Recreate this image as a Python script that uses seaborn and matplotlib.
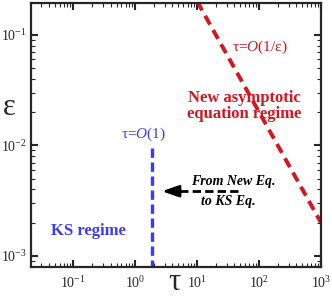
import matplotlib
matplotlib.use("Agg")
import matplotlib.pyplot as plt
import seaborn as sns
from matplotlib.ticker import LogLocator, NullFormatter

# data
tau_red = [10, 1000]
eps_red = [0.2, 0.002]
tau_blue = [1.9, 1.9]
eps_blue = [0.0095, 0.0008]
tau_arrow = [46, 3.6]
eps_arrow = [0.00385, 0.00385]

sns.set_style("ticks")
plt.rcParams['font.family'] = ['Liberation Serif', 'DejaVu Serif']
plt.rcParams['mathtext.fontset'] = 'custom'
plt.rcParams['mathtext.rm'] = 'Liberation Serif'
plt.rcParams['mathtext.it'] = 'Liberation Serif:italic'
plt.rcParams['mathtext.bf'] = 'Liberation Serif:bold'

RED = "#d8141e"
BLUE = "#3a3aff"

fig = plt.figure(figsize=(3.32, 2.98), dpi=100, facecolor='white')
ax = fig.add_axes([0.093, 0.105, 0.874, 0.885])
ax.set_facecolor('white')

kw = dict(ax=ax, estimator=None, sort=False, errorbar=None)
sns.lineplot(x=tau_red, y=eps_red, color=RED, lw=2.8, linestyle=(0, (2.6, 1.6)), **kw)
sns.lineplot(x=tau_blue, y=eps_blue, color=BLUE, lw=2.4, linestyle=(0, (2.8, 1.4)), **kw)
sns.lineplot(x=tau_arrow, y=eps_arrow, color='black', lw=2.0, linestyle=(0, (3, 1.5)), **kw)
ax.annotate("", xy=(2.7, eps_arrow[0]), xytext=(3.8, eps_arrow[0]),
            arrowprops=dict(arrowstyle='-|>,head_length=1.0,head_width=0.35', color='black', lw=2.0,
                            shrinkA=0, shrinkB=0))

ax.set_xscale('log')
ax.set_yscale('log')
ax.set_xlim(0.0207, 1000)
ax.set_ylim(0.0008, 0.194)

for a in (ax.xaxis, ax.yaxis):
    a.set_major_locator(LogLocator(base=10, numticks=20))
    a.set_minor_locator(LogLocator(base=10, subs=range(2, 10), numticks=20))
    a.set_minor_formatter(NullFormatter())

ax.tick_params(which='both', direction='in', top=True, right=True, labelsize=10)
ax.tick_params(which='major', length=5, width=1.5)
ax.tick_params(which='minor', length=3, width=0.8)
ax.tick_params(axis='x', pad=6)
ax.tick_params(axis='y', pad=3)
for s in ax.spines.values():
    s.set_linewidth(1.6)

ax.set_xlabel("")
ax.set_ylabel("")


def place(xpix, ypix, s, ha='center', va='center', **kw):
    x, y = ax.transAxes.inverted().transform(fig.transFigure.transform((xpix / 332, 1 - ypix / 298)))
    ax.text(x, y, s, transform=ax.transAxes, ha=ha, va=va, clip_on=False, **kw)


place(174, 297, "τ", va='bottom', fontsize=22)
place(9, 107, "ε", fontsize=22)
place(260, 47, "τ=$\\mathbf{\\mathit{O}}$(1/ε)", color=RED, fontsize=11)
place(244, 106, "New asymptotic\nequation regime", color=RED, fontsize=12, fontweight='bold', linespacing=0.95)
place(143, 134, "τ=$\\mathbf{\\mathit{O}}$(1)", color=BLUE, fontsize=11)
place(88, 231, "KS regime", color=BLUE, fontsize=12, fontweight='bold')
place(233, 182, "From New Eq.", color='black', fontsize=10, fontweight='bold', fontstyle='italic')
place(228, 201, "to KS Eq.", color='black', fontsize=10, fontweight='bold', fontstyle='italic')

fig.savefig("out.png", dpi=100, facecolor='white')
